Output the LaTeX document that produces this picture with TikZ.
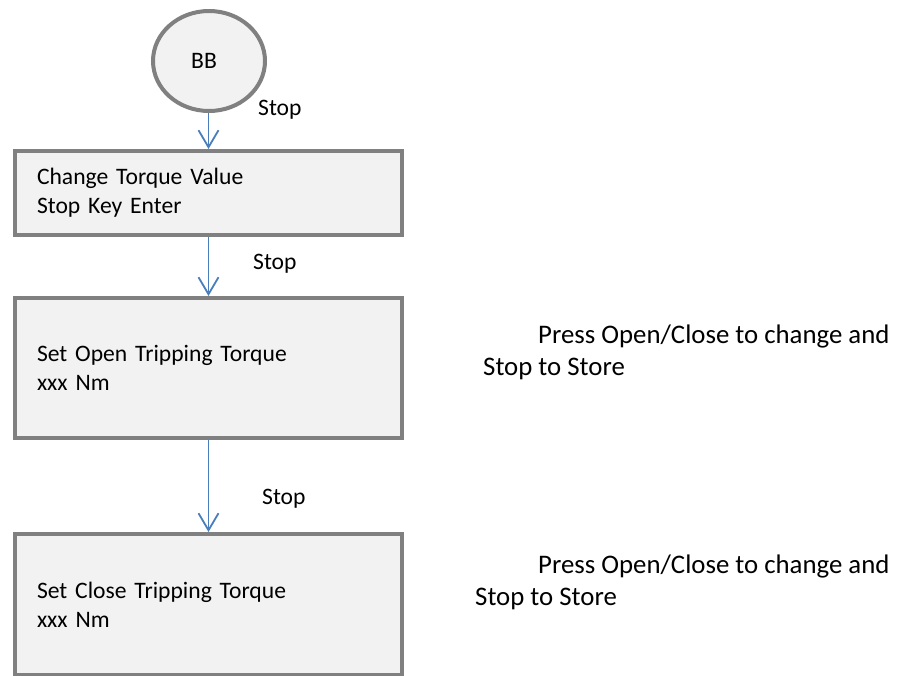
\documentclass[tikz,border=0pt]{standalone}
\usepackage{fontspec}
\setmainfont{Carlito}
\usetikzlibrary{arrows.meta,shapes.geometric}
\definecolor{boxfill}{HTML}{F2F2F2}
\definecolor{boxline}{HTML}{808080}
\definecolor{arrblue}{HTML}{4A7EBB}
\tikzset{
  every node/.style={font=\fontsize{23.6}{29}\selectfont},
  startnode/.style={ellipse, draw=boxline, fill=boxfill, line width=4pt,
    minimum width=112pt, minimum height=100pt, inner sep=0pt},
  procbox/.style={rectangle, draw=boxline, fill=boxfill, line width=4pt,
    minimum width=387pt, text width=343pt, align=left, inner xsep=22pt, inner ysep=0pt},
  flowarr/.style={draw=arrblue, line width=1.8pt,
    -{Straight Barb[length=17pt,width=20pt,line width=1.8pt]}},
  lbl/.style={anchor=base west, inner sep=0pt},
  notetext/.style={lbl, font=\fontsize{26.8}{32}\selectfont}
}
\begin{document}
\begin{tikzpicture}[x=1pt,y=-1pt]
\useasboundingbox (0,0) rectangle (904,675);
\node[startnode] (bb) at (209,61) {\hspace*{-10pt}BB};
\node[procbox, minimum height=84pt] (box1) at (208.5,193) {Change Torque Value\\Stop Key Enter};
\node[procbox, minimum height=140pt] (box2) at (208.5,368) {Set Open Tripping Torque\\xxx Nm};
\node[procbox, minimum height=141pt] (box3) at (208.5,604.5) {Set Close Tripping Torque\\xxx Nm};
\draw[flowarr] (bb.south -| box1.north) -- (box1.north);
\draw[flowarr] (box1.south) -- (box2.north);
\draw[flowarr] (box2.south) -- (box3.north);
\node[lbl] (s1) at (258,115) {Stop};
\node[lbl] (s2) at (253,269) {Stop};
\node[lbl] (s3) at (262,504) {Stop};
\node[notetext] (n1a) at (538,343) {Press Open/Close to change and};
\node[notetext] (n1b) at (483,375) {Stop to Store};
\node[notetext] (n2a) at (538,573) {Press Open/Close to change and};
\node[notetext] (n2b) at (475,605) {Stop to Store};
\end{tikzpicture}
\end{document}
